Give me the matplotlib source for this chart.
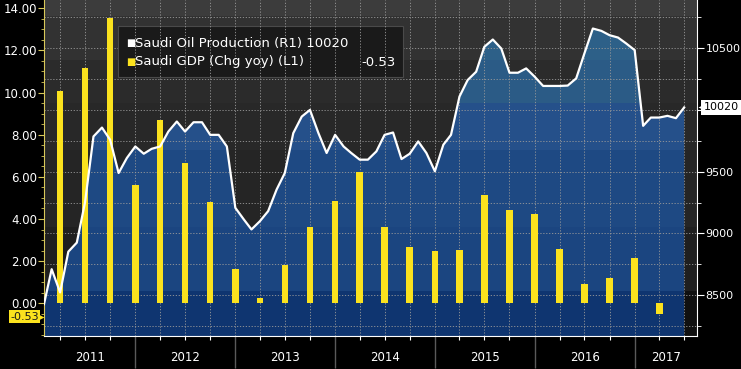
import numpy as np
import pandas as pd
import matplotlib
matplotlib.use('Agg')
import matplotlib.pyplot as plt
import matplotlib.dates as mdates
import matplotlib.transforms as mtransforms
from matplotlib.colors import to_rgb
from matplotlib.patches import Rectangle
from matplotlib.ticker import MultipleLocator, FuncFormatter, NullFormatter

# Saudi oil production, monthly (right axis)
oil_dates = pd.date_range('2011-02-01', '2017-07-01', freq='MS')
oil_prod = [
    8427, 8710, 8522, 8852, 8925, 9250, 9785, 9857, 9758, 9489, 9610,
    9704, 9645, 9685, 9704, 9825, 9906, 9825, 9900, 9900, 9798, 9798, 9704,
    9207, 9113, 9032, 9099, 9180, 9355, 9489, 9812, 9946, 10000, 9812, 9651,
    9798, 9704, 9651, 9597, 9597, 9664, 9798, 9817, 9602, 9645, 9745, 9651,
    9503, 9718, 9798, 10108, 10242, 10309, 10511, 10570, 10497, 10301, 10301, 10336,
    10269, 10194, 10194, 10194, 10197, 10255, 10457, 10659, 10640, 10605, 10586, 10538,
    10484, 9871, 9938, 9938, 9952, 9933, 10020,
]

# Saudi GDP yoy change, quarterly (left axis)
gdp_dates = pd.date_range('2011-04-01', '2017-04-01', freq='QS')
gdp_chg = [10.09, 11.18, 13.55,
           5.60, 8.70, 6.68, 4.82,
           1.61, 0.27, 1.83, 3.60,
           4.87, 6.24, 3.64, 2.65,
           2.47, 2.52, 5.16, 4.45,
           4.26, 2.59, 0.90, 1.20,
           2.16, -0.53]

years = list(range(2011, 2018))
x_lo, x_hi = pd.Timestamp('2011-02-01'), pd.Timestamp('2017-08-17')
left_lim = (-1.55, 14.39)
right_lim = (8169, 10890)

# banded shading, Bloomberg style
band_edges = [8532, 9048, 9677, 10056, 10403, 10766]
bg_colors = ['#101010', '#1f1f1f', '#252525', '#282828', '#2b2b2b', '#323232', '#3c3c3c']
fill_colors = ['#0f3570', '#1b4580', '#1e4983', '#25508a', '#2b5b86', '#2d6088', '#2d6088']
yellow = '#fbe21e'
grid_kw = dict(color='#9a9a9a', linestyle=(0, (1.5, 2)), linewidth=0.6)

fig, ax = plt.subplots(figsize=(7.41, 3.69), dpi=100)
fig.patch.set_facecolor('black')
fig.subplots_adjust(left=44 / 741, right=697 / 741, bottom=(369 - 336) / 369, top=1.0)
ax2 = ax.twinx()
ax.set_zorder(ax2.get_zorder() + 1)
ax.patch.set_visible(False)

# bars on left axis
ax.bar(gdp_dates, gdp_chg, width=24, color=yellow, zorder=3)

# background + gradient area on right axis
levels = np.linspace(right_lim[1], right_lim[0], 600)
idx = np.digitize(levels, band_edges)
bg_img = np.array([to_rgb(c) for c in bg_colors])[idx][:, None, :]
fill_img = np.array([to_rgb(c) for c in fill_colors])[idx][:, None, :]
ext = [mdates.date2num(x_lo), mdates.date2num(x_hi), right_lim[0], right_lim[1]]
ax2.imshow(bg_img, extent=ext, aspect='auto', origin='upper',
           interpolation='nearest', zorder=-2)
poly = ax2.fill_between(oil_dates, oil_prod, right_lim[0], facecolor='none', edgecolor='none')
fim = ax2.imshow(fill_img, extent=ext, aspect='auto', origin='upper',
                 interpolation='nearest', zorder=-1)
fim.set_clip_path(poly.get_paths()[0], ax2.transData)
poly.set_visible(False)

# oil line drawn on top of the bars, in right-axis units
ax.plot(oil_dates, oil_prod, color='white', lw=1.6, transform=ax2.transData, zorder=5)

ax.set_xlim(x_lo, x_hi)
ax.set_ylim(*left_lim)
ax2.set_ylim(*right_lim)

# grids
ax.set_axisbelow(True)
ax.grid(axis='x', which='both', **grid_kw)
ax2.yaxis.set_minor_locator(MultipleLocator(250))
ax2.grid(axis='y', which='both', **grid_kw)

# left axis
ax.set_yticks(np.arange(0, 15, 2))
ax.yaxis.set_major_formatter(FuncFormatter(lambda v, p: f'{v:.2f}'))
ax.yaxis.set_minor_locator(MultipleLocator(0.5))
ax.tick_params(axis='y', which='major', color='#d8c85a', labelcolor='white',
               labelsize=8.5, length=4, pad=1)
ax.tick_params(axis='y', which='minor', color='#d8c85a', length=2.5)

# right axis
ax2.set_yticks([8500, 9000, 9500, 10000, 10500])
ax2.yaxis.set_major_formatter(FuncFormatter(lambda v, p: '' if v == 10000 else f'{v:.0f}'))
ax2.tick_params(axis='y', which='major', color='white', labelcolor='white',
                labelsize=8, length=5, pad=1)
ax2.tick_params(axis='y', which='minor', color='white', length=3)

# x axis
ax.xaxis.set_major_locator(mdates.YearLocator())
ax.xaxis.set_minor_locator(mdates.MonthLocator(bymonth=[1, 4, 7, 10]))
ax.xaxis.set_major_formatter(NullFormatter())
ax.xaxis.set_minor_formatter(NullFormatter())
ax.tick_params(axis='x', which='major', length=23, color='#5a5a5a', width=1)
ax.tick_params(axis='x', which='minor', length=3, color='white', width=0.8)

trans_xa = mtransforms.blended_transform_factory(ax.transData, ax.transAxes)
for yr in years:
    s = max(pd.Timestamp(f'{yr}-01-01'), x_lo)
    e = min(pd.Timestamp(f'{yr + 1}-01-01'), x_hi)
    ax.text(s + (e - s) / 2, -0.064, str(yr), transform=trans_xa,
            ha='center', va='center', color='white', fontsize=8.5)

for sp in ax2.spines.values():
    sp.set_visible(False)
ax.spines['top'].set_visible(False)
ax.spines['left'].set_color('#d8c85a')
ax.spines['right'].set_color('white')
ax.spines['bottom'].set_color('white')

# last value tags
trans_l = mtransforms.blended_transform_factory(ax.transAxes, ax.transData)
tag_y = gdp_chg[-1] - 0.1
ax.text(-0.008, tag_y, f'{gdp_chg[-1]:.2f}', transform=trans_l, ha='right',
        va='center', fontsize=8, color='#1a1a1a', clip_on=False, zorder=10,
        bbox=dict(boxstyle='square,pad=0.12', fc=yellow, ec='none'))
ax.plot([-0.004], [tag_y], marker='>', ms=5, color=yellow, mec='none',
        transform=trans_l, clip_on=False, zorder=10)

trans_r = mtransforms.blended_transform_factory(ax2.transAxes, ax2.transData)
ax2.text(1.010, oil_prod[-1], f'{oil_prod[-1]}', transform=trans_r, ha='left', va='center',
         fontsize=8, color='black', clip_on=False, zorder=10,
         bbox=dict(boxstyle='square,pad=0.2', fc='white', ec='none'))
ax2.plot([1.006], [oil_prod[-1]], marker='<', ms=5, color='white', mec='none',
         transform=trans_r, clip_on=False, zorder=10)

# legend box
fig.add_artist(Rectangle((118 / 741, 1 - 77 / 369), 285 / 741, 51 / 369,
                         transform=fig.transFigure, fc='#1a1a1a', ec='#4a4a4a', lw=0.8))
row1_y, row2_y = 1 - 43 / 369, 1 - 62 / 369
fig.text(126 / 741, row1_y, '■', color='white', fontsize=7, va='center')
fig.text(135 / 741, row1_y, f'Saudi Oil Production (R1) {oil_prod[-1]}',
         color='white', fontsize=9.5, va='center')
fig.text(126 / 741, row2_y, '■', color=yellow, fontsize=7, va='center')
fig.text(135 / 741, row2_y, 'Saudi GDP (Chg yoy) (L1)', color='white', fontsize=9.5, va='center')
fig.text(396 / 741, row2_y, f'{gdp_chg[-1]:.2f}', color='white', fontsize=9.5,
         va='center', ha='right')

fig.savefig('out.png', dpi=100, facecolor='black')
